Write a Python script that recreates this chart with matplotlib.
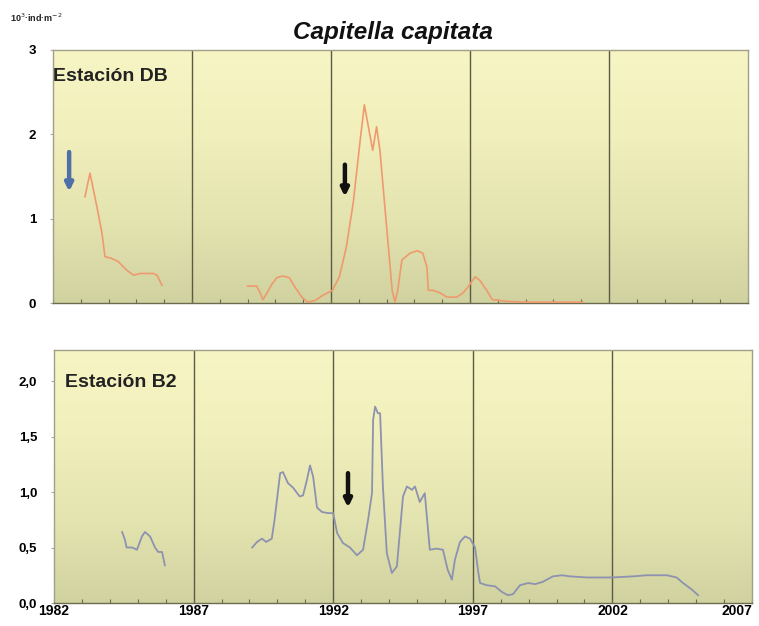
import numpy as np
import matplotlib
matplotlib.use("Agg")
import matplotlib.pyplot as plt
from matplotlib.ticker import MultipleLocator, FixedLocator
from matplotlib.colors import LinearSegmentedColormap

# ---- data: Estación DB (10^3 ind/m^2) ----
db1_year = [1983.15, 1983.33, 1983.58, 1983.76, 1983.87, 1984.1, 1984.35, 1984.65,
            1984.9, 1985.13, 1985.6, 1985.74, 1985.92]
db1_val = [1.26, 1.54, 1.14, 0.83, 0.55, 0.53, 0.49, 0.39, 0.33, 0.35, 0.35, 0.33, 0.21]

db2_year = [1989.0, 1989.33, 1989.45, 1989.55, 1989.7, 1989.87, 1990.05, 1990.27, 1990.5,
            1990.7, 1990.95, 1991.17, 1991.43, 1991.7, 1992.05, 1992.3, 1992.55, 1992.8,
            1993.05, 1993.2, 1993.5, 1993.64, 1993.76, 1994.2, 1994.3, 1994.4, 1994.55,
            1994.84, 1995.1, 1995.3, 1995.45, 1995.5, 1995.67, 1995.92, 1996.17, 1996.53,
            1996.75, 1996.93, 1997.18, 1997.35, 1997.6, 1997.8, 1998.3, 1999.0, 2000.0,
            2001.06]
db2_val = [0.20, 0.20, 0.12, 0.04, 0.12, 0.22, 0.30, 0.32, 0.30,
           0.19, 0.07, 0.01, 0.03, 0.09, 0.15, 0.31, 0.66, 1.19,
           1.93, 2.35, 1.81, 2.09, 1.81, 0.15, 0.01, 0.15, 0.51,
           0.59, 0.62, 0.59, 0.43, 0.15, 0.15, 0.12, 0.07, 0.07,
           0.12, 0.19, 0.31, 0.27, 0.15, 0.04, 0.02, 0.01, 0.01,
           0.01]

# ---- data: Estación B2 ----
b21_year = [1984.44, 1984.54, 1984.6, 1984.8, 1984.97, 1985.15, 1985.26, 1985.44,
            1985.62, 1985.73, 1985.87, 1985.97]
b21_val = [0.64, 0.57, 0.50, 0.50, 0.48, 0.60, 0.64, 0.60, 0.50, 0.46, 0.46, 0.34]

b22_year = [1989.1, 1989.27, 1989.45, 1989.6, 1989.8, 1989.9, 1990.1, 1990.2, 1990.38,
            1990.56, 1990.8, 1990.92, 1991.06, 1991.17, 1991.28, 1991.42, 1991.6, 1991.82,
            1992.0, 1992.14, 1992.35, 1992.6, 1992.85, 1993.07, 1993.25, 1993.39, 1993.43,
            1993.5, 1993.6, 1993.68, 1993.78, 1993.92, 1994.1, 1994.28, 1994.5, 1994.64,
            1994.82, 1994.93, 1995.1, 1995.28, 1995.46, 1995.7, 1995.93, 1996.1, 1996.25,
            1996.36, 1996.54, 1996.72, 1996.9, 1997.08, 1997.2, 1997.26, 1997.5, 1997.8,
            1998.04, 1998.26, 1998.44, 1998.69, 1998.98, 1999.23, 1999.5, 1999.87, 2000.19,
            2000.48, 2001.09, 2002.0, 2002.74, 2003.24, 2003.95, 2004.3, 2004.53, 2004.85,
            2005.07]
b22_val = [0.50, 0.55, 0.58, 0.55, 0.58, 0.75, 1.17, 1.18, 1.08,
           1.04, 0.96, 0.97, 1.11, 1.24, 1.14, 0.86, 0.82, 0.81,
           0.81, 0.63, 0.54, 0.50, 0.43, 0.48, 0.75, 0.99, 1.65,
           1.77, 1.71, 1.71, 1.05, 0.45, 0.27, 0.33, 0.96, 1.05,
           1.02, 1.05, 0.91, 0.99, 0.48, 0.49, 0.48, 0.30, 0.21,
           0.39, 0.55, 0.60, 0.58, 0.50, 0.27, 0.18, 0.16, 0.15,
           0.10, 0.07, 0.08, 0.16, 0.18, 0.17, 0.19, 0.24, 0.25,
           0.24, 0.23, 0.23, 0.24, 0.25, 0.25, 0.23, 0.18, 0.12,
           0.07]

# arrows (year, start value, end value)
arrow_db_blue = (1982.58, 1.79, 1.32)
arrow_db_black = (1992.5, 1.64, 1.26)
arrow_b2_black = (1992.53, 1.17, 0.86)

divider_years = [1987, 1992, 1997, 2002]
x_ticks = [1982, 1987, 1992, 1997, 2002, 2007]
db_yticks = [0, 1, 2, 3]
b2_yticks = [0.0, 0.5, 1.0, 1.5, 2.0]

plt.rcParams['font.family'] = ['Liberation Sans', 'DejaVu Sans']

fig = plt.figure(figsize=(7.59, 6.26), dpi=100)
fig.patch.set_facecolor('white')

ax1 = fig.add_axes([53/759, 1 - 303/626, 695/759, 253/626])
ax2 = fig.add_axes([54/759, 1 - 603/626, 698/759, 253/626])

grad = np.linspace(0, 1, 256).reshape(-1, 1)
# bottom (olive) -> top (pale yellow)
cmap = LinearSegmentedColormap.from_list('bg', ['#d0d2a0', '#e4e4b0', '#f1efbb', '#f7f5c4'])

for ax, ymax in [(ax1, 3.0), (ax2, 2.28)]:
    ax.imshow(grad, aspect='auto', cmap=cmap, extent=[0, 1, 0, 1], origin='lower',
              transform=ax.transAxes, zorder=0)
    ax.set_xlim(1982, 2007)
    ax.set_ylim(0, ymax)
    for yr in divider_years:
        ax.axvline(yr, color='#5b5b45', lw=1.0, zorder=1)
    for s in ax.spines.values():
        s.set_color('#a0a088')
        s.set_linewidth(1.0)
    ax.spines['bottom'].set_color('#6b6b50')
    ax.xaxis.set_major_locator(FixedLocator(x_ticks))
    ax.xaxis.set_minor_locator(MultipleLocator(1))
    ax.tick_params(axis='x', which='both', direction='in', length=3, color='#6b6b50', width=0.8)
    ax.tick_params(axis='y', which='major', direction='out', length=2, color='#aaaaaa',
                   pad=10, labelsize=9.5)

ax1.plot(db1_year, db1_val, color='#ef9a6e', lw=1.2, zorder=3)
ax1.plot(db2_year, db2_val, color='#ef9a6e', lw=1.2, zorder=3)
ax2.plot(b21_year, b21_val, color='#8d92b0', lw=1.3, zorder=3)
ax2.plot(b22_year, b22_val, color='#8d92b0', lw=1.3, zorder=3)

ax1.set_yticks(db_yticks)
ax1.set_yticklabels([str(v) for v in db_yticks], fontweight='bold')
ax1.tick_params(axis='x', labelbottom=False)

ax2.set_yticks(b2_yticks)
ax2.set_yticklabels([f"{v:.1f}".replace('.', ',') for v in b2_yticks], fontweight='bold')
ax2.set_xticklabels([str(v) for v in x_ticks], fontweight='bold', fontsize=10)
ax2.tick_params(axis='x', which='major', pad=1)
ax2.get_xticklabels()[-1].set_horizontalalignment('right')

def draw_arrow(ax, a, color):
    x, y0, y1 = a
    ax.annotate('', xy=(x, y1), xytext=(x, y0),
                arrowprops=dict(arrowstyle='-|>,head_width=0.22,head_length=0.45',
                                color=color, lw=3.2, shrinkA=0, shrinkB=0), zorder=4)

draw_arrow(ax1, arrow_db_blue, '#4f6fa8')
draw_arrow(ax1, arrow_db_black, '#111111')
draw_arrow(ax2, arrow_b2_black, '#111111')

ax1.text(0.0, 0.897, 'Estación DB', transform=ax1.transAxes, fontsize=14,
         fontweight='bold', color='#222222', va='center', ha='left', zorder=5)
ax2.text(0.016, 0.87, 'Estación B2', transform=ax2.transAxes, fontsize=14,
         fontweight='bold', color='#222222', va='center', ha='left', zorder=5)

fig.text(393/759, 1 - 32/626, 'Capitella capitata', fontsize=17.5, fontweight='bold',
         fontstyle='italic', ha='center', va='center', color='#111111')
fig.text(10/759, 1 - 18/626, r'10$^{3}$·ind·m$^{-2}$', fontsize=6.5, fontweight='bold',
         ha='left', va='center', color='#222222')

fig.savefig('out.png', dpi=100, facecolor='white')
